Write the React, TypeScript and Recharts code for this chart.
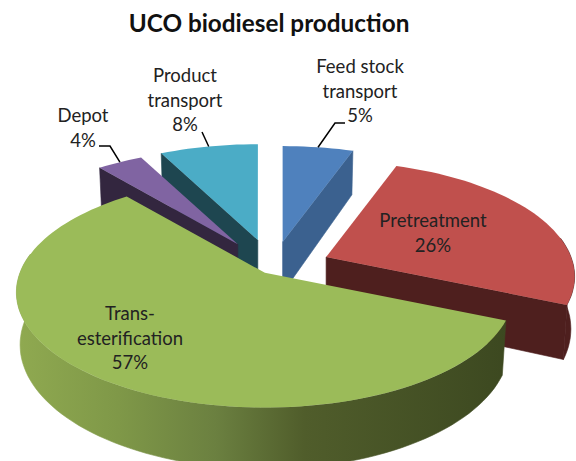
import { PieChart, Pie } from 'recharts';

const WIDTH = 576;
const HEIGHT = 461;

// Listed counterclockwise and painted in this order: Depot has to sit over Product transport, Trans-esterification over everything
const sliceNames = ['Pretreatment', 'Feed stock transport', 'Product transport', 'Depot', 'Trans-esterification'];
const sliceValues = [26.11, 5.4, 7.5, 3.5, 57.49];
const sliceData = sliceNames.map((name, i) => ({ name, value: sliceValues[i] }));

const TOP_COLORS: Record<string, string> = {
    'Depot': '#8064a2',
    'Product transport': '#4bacc6',
    'Feed stock transport': '#4f81bd',
    'Pretreatment': '#c0504d',
    'Trans-esterification': '#9bbb59',
};
const WALL_COLORS: Record<string, string> = {
    'Depot': '#33263f',
    'Product transport': '#1e4650',
    'Feed stock transport': '#3b618f',
    'Pretreatment': '#4e1f1e',
    'Trans-esterification': 'url(#greenWall)',
};
// How far each slice is pulled out, and how many degrees that pull is turned away from its middle
const EXPLODE: Record<string, { dist: number; turn: number }> = {
    'Depot': { dist: 54, turn: -6 },
    'Product transport': { dist: 53, turn: -2 },
    'Feed stock transport': { dist: 48, turn: 3 },
    'Pretreatment': { dist: 55.6, turn: 10 },
    'Trans-esterification': { dist: 23, turn: -19 },
};

// Label text and where it sits; leader holds the bend of the leader line
const LABELS: Record<string, { x: number; y: number; lines: string[]; leader?: number[][] }> = {
    'Depot': { x: 83, y: 122, lines: ['Depot'], leader: [[99, 146], [110, 146]] },
    'Product transport': { x: 185, y: 82, lines: ['Product', 'transport'], leader: [[202, 132]] },
    'Feed stock transport': { x: 360, y: 73, lines: ['Feed stock', 'transport'], leader: [[345, 123], [335, 123]] },
    'Pretreatment': { x: 433, y: 227, lines: ['Pretreatment'] },
    'Trans-esterification': { x: 130, y: 320, lines: ['Trans-', 'esterification'] },
};

const FONT = 'Lato, "Open Sans", sans-serif';
const CX = 272;
const CY = 263;
const RADIUS = 245;
const TILT = 0.457; // vertical squash of the pie
const CAMERA = 5.93 * RADIUS; // perspective distance
const DEPTH = 51;
const BOTTOM_SHRINK = 0.985;

const rad = (deg: number) => (deg * Math.PI) / 180;

// Recharts angles run counterclockwise from 3 o'clock, theta runs clockwise from 12
const toTheta = (angle: number) => 90 - angle;

const apexOf = (name: string, midTheta: number) => {
    const { dist, turn } = EXPLODE[name];
    const bearing = rad(midTheta + turn);
    return [CX + dist * Math.sin(bearing), CY - dist * 0.45 * Math.cos(bearing)];
};

const project = (apex: number[], theta: number, r: number, bottom = false) => {
    const X = r * Math.sin(rad(theta));
    const Y = r * Math.cos(rad(theta));
    const s = CAMERA / (CAMERA + Y);
    return [
        apex[0] + X * s * (bottom ? BOTTOM_SHRINK : 1),
        apex[1] - Y * TILT * s + (bottom ? DEPTH * s : 0),
    ];
};

const toPath = (points: number[][]) =>
    'M' + points.map(p => `${p[0].toFixed(1)},${p[1].toFixed(1)}`).join('L') + 'Z';

const arcThetas = (from: number, to: number) => {
    const steps = Math.max(2, Math.ceil(Math.abs(to - from) / 2));
    return Array.from({ length: steps + 1 }, (_, i) => from + ((to - from) * i) / steps);
};

const Slice3D = (props: any) => {
    const { startAngle, endAngle, outerRadius } = props;
    const name = props.name ?? props.payload?.name;
    // Bring the slice into 0..360, low end first, so the near-rim test below works
    const low = Math.min(toTheta(startAngle), toTheta(endAngle));
    const high = Math.max(toTheta(startAngle), toTheta(endAngle));
    const turns = Math.floor((low + 0.001) / 360) * 360;
    const from = low - turns;
    const to = high - turns;
    const apex = apexOf(name, (from + to) / 2);
    const top = TOP_COLORS[name];
    const wall = WALL_COLORS[name];

    const radialWall = (theta: number) =>
        toPath([project(apex, theta, 0), project(apex, theta, outerRadius), project(apex, theta, outerRadius, true), project(apex, theta, 0, true)]);

    const sinFrom = Math.sin(rad(from));
    const sinTo = Math.sin(rad(to));

    // Outer wall only shows on the near half of the rim
    const wallFrom = Math.max(from, 80);
    const wallTo = Math.min(to, 280);
    const outer = wallFrom < wallTo ? arcThetas(wallFrom, wallTo) : null;

    return (
        <g>
            <defs>
                <linearGradient id="greenWall" gradientUnits="userSpaceOnUse" x1="20" y1="0" x2="510" y2="0">
                    <stop offset="0" stopColor="#8fa950" />
                    <stop offset="0.2" stopColor="#7f9848" />
                    <stop offset="0.4" stopColor="#6b8040" />
                    <stop offset="0.58" stopColor="#505d2b" />
                    <stop offset="1" stopColor="#3c4820" />
                </linearGradient>
            </defs>
            {sinFrom < -0.001 && <path d={radialWall(from)} fill={wall} stroke={wall} strokeWidth={0.6} />}
            {sinTo > 0.001 && <path d={radialWall(to)} fill={wall} stroke={wall} strokeWidth={0.6} />}
            {outer && (
                <path
                    d={toPath([
                        ...outer.map(t => project(apex, t, outerRadius)),
                        ...outer.slice().reverse().map(t => project(apex, t, outerRadius, true)),
                    ])}
                    fill={wall}
                    stroke={wall}
                    strokeWidth={0.6}
                />
            )}
            <path d={toPath([project(apex, from, 0), ...arcThetas(from, to).map(t => project(apex, t, outerRadius))])} fill={top} />
        </g>
    );
};

const SliceLabel = (props: any) => {
    const name = props.name ?? props.payload?.name;
    const layout = LABELS[name];
    const rawTheta = toTheta(props.midAngle);
    const midTheta = rawTheta - Math.floor(rawTheta / 360) * 360;
    const lines = [...layout.lines, `${Math.round(props.value)}%`];
    const rim = project(apexOf(name, midTheta), midTheta, RADIUS);
    return (
        <g>
            {layout.leader && (
                <polyline
                    points={[...layout.leader, rim].map(p => p.join(',')).join(' ')}
                    fill="none"
                    stroke="#000"
                    strokeWidth={1.5}
                />
            )}
            {lines.map((line, i) => (
                <text key={line} x={layout.x} y={layout.y + i * 24.5} textAnchor="middle" fontFamily={FONT} fontSize={18.5} fill="#222">
                    {line}
                </text>
            ))}
        </g>
    );
};

export default function App() {
    return (
        <div style={{ position: 'absolute', left: 0, top: 0, width: WIDTH, height: HEIGHT, background: '#fff' }}>
            <PieChart width={WIDTH} height={HEIGHT} margin={{ top: 0, right: 0, bottom: 0, left: 0 }}>
                <text x={269} y={32} textAnchor="middle" fontFamily={FONT} fontSize={24.3} fontWeight={700} fill="#111">
                    UCO biodiesel production
                </text>
                <Pie
                    data={sliceData}
                    dataKey="value"
                    nameKey="name"
                    cx={CX}
                    cy={CY}
                    innerRadius={0}
                    outerRadius={RADIUS}
                    startAngle={-23.44}
                    endAngle={336.56}
                    stroke="none"
                    shape={Slice3D}
                    label={SliceLabel}
                    labelLine={false}
                    isAnimationActive={false}
                />
            </PieChart>
        </div>
    );
}
